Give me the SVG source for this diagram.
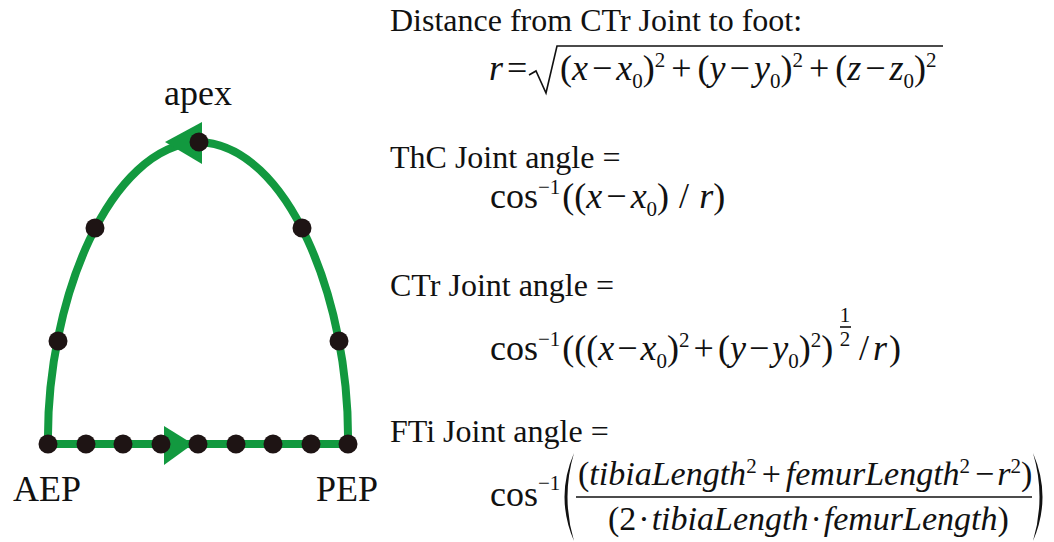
<svg xmlns="http://www.w3.org/2000/svg" width="1054" height="542" viewBox="0 0 1054 542">
<style>
.t{font-family:"Liberation Serif","Times New Roman","DejaVu Serif",serif;fill:#111;}
.lbl{font-size:32px;}
.big{font-size:36px;}
.m{font-size:36px;}
.f{font-size:34px;}
.i{font-style:italic;}
.s{font-size:21px;font-style:normal;}
.dot{fill:#1e1414;}
.arr{fill:#12993f;}
.rule{stroke:#111;stroke-width:1.6;fill:none;}
</style>
<rect width="1054" height="542" fill="#fff"/>
<g id="connectors">
<path id="cycle" d="M48,444 C46,300 110,145 199,142 C288,145 350,300 348,444 Z" fill="none" stroke="#12993f" stroke-width="8" stroke-linejoin="miter"/>
<polygon id="arrow-apex" class="arr" points="165,142 202,122 202,164"/>
<polygon id="arrow-stance" class="arr" points="164,426 164,465 193,444"/>
</g>
<g id="node-points">
<circle class="dot" cx="48" cy="444" r="9.5"/>
<circle class="dot" cx="86" cy="444" r="9.5"/>
<circle class="dot" cx="123" cy="444" r="9.5"/>
<circle class="dot" cx="161" cy="444" r="9.5"/>
<circle class="dot" cx="198" cy="444" r="9.5"/>
<circle class="dot" cx="236" cy="444" r="9.5"/>
<circle class="dot" cx="273" cy="444" r="9.5"/>
<circle class="dot" cx="311" cy="444" r="9.5"/>
<circle class="dot" cx="348" cy="444" r="9.5"/>
<circle class="dot" cx="58" cy="341" r="9.5"/>
<circle class="dot" cx="95" cy="228" r="9.5"/>
<circle class="dot" cx="199" cy="142" r="9.5"/>
<circle class="dot" cx="302" cy="228" r="9.5"/>
<circle class="dot" cx="339" cy="341" r="9.5"/>
</g>
<g id="node-labels">
<text class="t big" x="198" y="105" text-anchor="middle">apex</text>
<text class="t big" x="13" y="501">AEP</text>
<text class="t big" x="316" y="501">PEP</text>
</g>
<g id="node-distance">
<text class="t lbl" x="390" y="31">Distance from CTr Joint to foot:</text>
<text class="t m" y="80"><tspan x="489" class="i">r</tspan><tspan x="507">=</tspan></text>
<path class="rule" d="M529,75 L536,71 L546,93 L557,46 L943,46"/>
<text class="t m" x="560" y="80">(<tspan class="i">x</tspan><tspan dx="4">−</tspan><tspan dx="4" class="i">x</tspan><tspan class="s" y="88">0</tspan><tspan y="80">)</tspan><tspan class="s" y="67">2</tspan><tspan y="80" dx="6">+</tspan><tspan dx="6">(</tspan><tspan class="i">y</tspan><tspan dx="4">−</tspan><tspan dx="4" class="i">y</tspan><tspan class="s" y="88">0</tspan><tspan y="80">)</tspan><tspan class="s" y="67">2</tspan><tspan y="80" dx="6">+</tspan><tspan dx="6">(</tspan><tspan class="i">z</tspan><tspan dx="4">−</tspan><tspan dx="4" class="i">z</tspan><tspan class="s" y="88">0</tspan><tspan y="80">)</tspan><tspan class="s" y="67">2</tspan></text>
</g>
<g id="node-thc">
<text class="t lbl" x="390" y="168">ThC Joint angle =</text>
<text class="t m" x="490" y="208">cos<tspan class="s" y="194">−1</tspan><tspan y="208" dx="2">((</tspan><tspan class="i">x</tspan><tspan dx="4">−</tspan><tspan dx="4" class="i">x</tspan><tspan class="s" y="216">0</tspan><tspan y="208">)</tspan><tspan dx="10">/</tspan><tspan dx="10" class="i">r</tspan><tspan>)</tspan></text>
</g>
<g id="node-ctr">
<text class="t lbl" x="390" y="296">CTr Joint angle =</text>
<text class="t m" x="490" y="360">cos<tspan class="s" y="346">−1</tspan><tspan y="360" dx="2">(((</tspan><tspan class="i">x</tspan><tspan dx="3">−</tspan><tspan dx="3" class="i">x</tspan><tspan class="s" y="368">0</tspan><tspan y="360">)</tspan><tspan class="s" y="347">2</tspan><tspan y="360" dx="4">+</tspan><tspan dx="4">(</tspan><tspan class="i">y</tspan><tspan dx="3">−</tspan><tspan dx="3" class="i">y</tspan><tspan class="s" y="368">0</tspan><tspan y="360">)</tspan><tspan class="s" y="347">2</tspan><tspan y="360">)</tspan></text>
<text class="t s" x="845" y="322" text-anchor="middle">1</text>
<line class="rule" x1="840" y1="327" x2="851" y2="327" stroke-width="1.1"/>
<text class="t s" x="845" y="346" text-anchor="middle">2</text>
<text class="t m" y="360"><tspan x="859">/</tspan><tspan x="873" class="i">r</tspan><tspan x="889">)</tspan></text>
</g>
<g id="node-fti">
<text class="t lbl" x="390" y="442">FTi Joint angle =</text>
<text class="t m" x="490" y="506">cos<tspan class="s" y="490">−1</tspan></text>
<path d="M574,453 Q555,497 574,541 Q561,497 574,453 Z" fill="#111"/>
<path d="M1033,453 Q1052,497 1033,541 Q1046,497 1033,453 Z" fill="#111"/>
<text class="t f" x="578" y="485">(<tspan class="i">tibiaLength</tspan><tspan class="s" y="473">2</tspan><tspan y="485" dx="5">+</tspan><tspan dx="5" class="i">femurLength</tspan><tspan class="s" y="473">2</tspan><tspan y="485" dx="5">−</tspan><tspan dx="3" class="i">r</tspan><tspan class="s" y="473">2</tspan><tspan y="485">)</tspan></text>
<line class="rule" x1="576" y1="497" x2="1032" y2="497"/>
<text class="t f" x="608" y="530">(2<tspan dx="2">·</tspan><tspan dx="2" class="i">tibiaLength</tspan><tspan dx="2">·</tspan><tspan dx="2" class="i">femurLength</tspan>)</text>
</g>
</svg>
